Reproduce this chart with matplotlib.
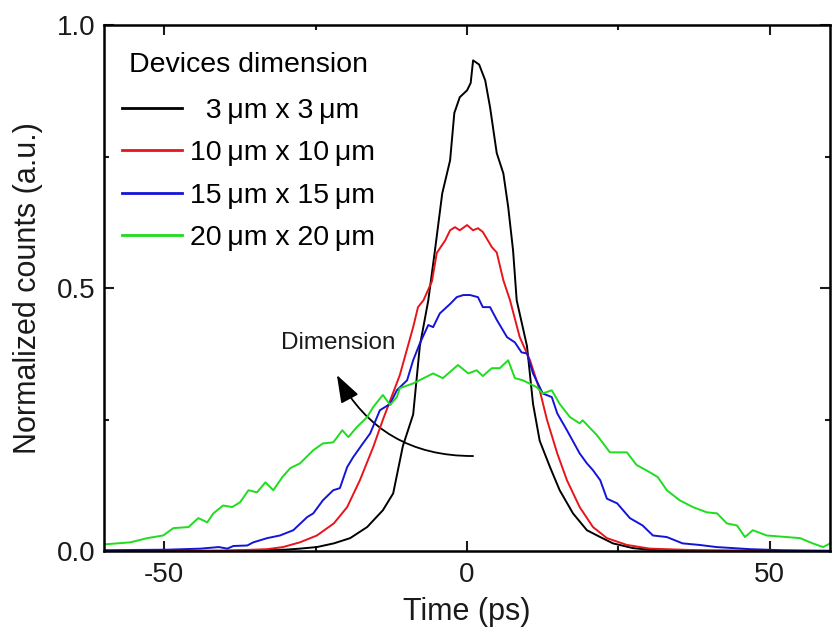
import numpy as np
import matplotlib
matplotlib.use("Agg")
import matplotlib.pyplot as plt
from matplotlib.patches import FancyArrowPatch

plt.rcParams['font.family'] = ['Liberation Sans', 'DejaVu Sans']
plt.rcParams['axes.unicode_minus'] = False

# time axis (ps) and normalized counts
t_3 = [-60, -40, -30, -27.6, -24.8, -22, -19.3, -16.5, -13.9, -12.2,
       -10.6, -8.9, -7.8, -6.4, -5.3, -4.1, -2.8, -2.1, -1.2, 0,
       0.6, 1, 2, 3, 3.8, 4.9, 6, 6.8, 7.6, 8.2,
       9.9, 10.9, 12, 13.7, 15.3, 17.5, 19.8, 22, 24.1, 27.4,
       30, 40, 60]
c_3 = [0, 0.001, 0.003, 0.005, 0.008, 0.015, 0.025, 0.046, 0.078, 0.11,
       0.2, 0.26, 0.39, 0.477, 0.572, 0.68, 0.743, 0.833, 0.863, 0.876,
       0.89, 0.933, 0.925, 0.895, 0.844, 0.757, 0.718, 0.654, 0.572, 0.477,
       0.39, 0.28, 0.21, 0.16, 0.116, 0.072, 0.04, 0.027, 0.015, 0.006,
       0.003, 0.001, 0]

t_10 = [-60, -40, -33, -30.4, -27.6, -24.8, -22, -19.8, -17.7, -15.5,
        -13.9, -11.1, -8.9, -8.1, -7.2, -5.8, -5, -3.6, -2.8, -2,
        -1.2, 0, 1, 1.8, 2.6, 4.1, 4.9, 6, 7.1, 8.7,
        10.4, 12, 13.2, 14.9, 16.5, 18.6, 20.8, 23.1, 26.4, 30.2,
        38, 60]
c_10 = [0, 0.001, 0.004, 0.008, 0.017, 0.03, 0.053, 0.084, 0.135, 0.198,
        0.25, 0.335, 0.426, 0.464, 0.477, 0.513, 0.567, 0.591, 0.61, 0.616,
        0.61, 0.62, 0.61, 0.614, 0.607, 0.578, 0.568, 0.515, 0.477, 0.407,
        0.363, 0.306, 0.25, 0.186, 0.135, 0.084, 0.046, 0.025, 0.012, 0.005,
        0.002, 0]

t_15 = [-60, -49.5, -44, -41, -39.6, -38.6, -36.3, -35.3, -33, -30.9,
        -28.7, -26.4, -25.4, -23.8, -22.1, -21, -19.8, -18.8, -17.2, -16,
        -14.4, -12.7, -11.6, -9.9, -8.9, -7.8, -6.4, -5.6, -4.5, -2.8,
        -1.7, -0.6, 0.5, 1.8, 2.6, 3.8, 4.9, 6.6, 7.9, 9,
        9.9, 10.9, 12.5, 14, 14.9, 16.5, 18.6, 19.8, 20.8, 22,
        23.1, 24.8, 26.9, 29, 30.7, 33, 35.6, 38.4, 41.2, 46.7,
        52, 60]
c_15 = [0.002, 0.003, 0.005, 0.008, 0.005, 0.01, 0.011, 0.017, 0.025, 0.03,
        0.04, 0.065, 0.072, 0.097, 0.116, 0.12, 0.16, 0.179, 0.205, 0.224,
        0.268, 0.28, 0.306, 0.325, 0.363, 0.395, 0.43, 0.426, 0.452, 0.47,
        0.483, 0.487, 0.487, 0.483, 0.464, 0.464, 0.44, 0.407, 0.397, 0.378,
        0.376, 0.338, 0.3, 0.293, 0.262, 0.23, 0.186, 0.167, 0.154, 0.135,
        0.1, 0.091, 0.063, 0.049, 0.03, 0.027, 0.015, 0.012, 0.008, 0.004,
        0.002, 0.001]

t_20 = [-60, -57.8, -55.6, -52.8, -50.2, -48.5, -46, -44.4, -42.9, -41.9,
        -40.3, -38.8, -37.5, -36.1, -34.7, -33.3, -32, -30.5, -29.2, -27.6,
        -25.4, -23.8, -22.1, -20.6, -19.6, -18.2, -16.5, -15.5, -14.4, -13.9,
        -12.7, -11.6, -11.1, -8.9, -5.6, -4, -1.5, 0.2, 1.6, 2.6,
        4.1, 5.4, 6.8, 7.9, 9.2, 11.5, 12.5, 14, 15.3, 17,
        18.6, 19.1, 21.5, 23.6, 24.8, 26.4, 28, 30.2, 31.5, 33,
        35.1, 37.3, 39.6, 41.3, 42.9, 44.6, 45.9, 47.2, 49.5, 52.8,
        55, 57.1, 58.8, 60]
c_20 = [0.013, 0.015, 0.017, 0.025, 0.03, 0.044, 0.046, 0.063, 0.055, 0.072,
        0.087, 0.084, 0.093, 0.116, 0.112, 0.131, 0.116, 0.141, 0.158, 0.167,
        0.192, 0.205, 0.207, 0.23, 0.217, 0.236, 0.255, 0.274, 0.29, 0.297,
        0.278, 0.293, 0.31, 0.319, 0.338, 0.329, 0.354, 0.338, 0.344, 0.333,
        0.348, 0.348, 0.363, 0.329, 0.325, 0.312, 0.3, 0.306, 0.28, 0.255,
        0.243, 0.249, 0.22, 0.188, 0.188, 0.188, 0.164, 0.15, 0.141, 0.116,
        0.097, 0.084, 0.074, 0.072, 0.053, 0.049, 0.027, 0.04, 0.03, 0.027,
        0.025, 0.015, 0.008, 0.015]

labels = ['  3\u2009\u03bcm x 3\u2009\u03bcm', '10\u2009\u03bcm x 10\u2009\u03bcm',
          '15\u2009\u03bcm x 15\u2009\u03bcm', '20\u2009\u03bcm x 20\u2009\u03bcm']
colors = ['black', '#e8141c', '#1414d8', '#1edc1e']

fig = plt.figure(figsize=(8.37, 6.44), dpi=100)
ax = fig.add_axes([0.124, 0.144, 0.868, 0.817])

for t, c, lab, col in zip([t_3, t_10, t_15, t_20], [c_3, c_10, c_15, c_20], labels, colors):
    ax.plot(t, c, color=col, lw=1.4, label=lab)

ax.set_xlim(-60, 60)
ax.set_ylim(0, 1.0)
ax.set_xticks([-50, 0, 50])
ax.set_xticks([-25, 25], minor=True)
ax.set_yticks([0.0, 0.5, 1.0])
ax.set_yticks([0.25, 0.75], minor=True)
ax.tick_params(which='both', direction='in', top=True, right=True, width=1.5, labelsize=20, colors='#1a1a1a')
ax.tick_params(which='major', length=7.5)
ax.tick_params(which='minor', length=3.5)
ax.tick_params(axis='x', pad=8)
ax.tick_params(axis='y', pad=6)
for s in ax.spines.values():
    s.set_linewidth(1.8)

ax.set_xlabel('Time (ps)', fontsize=22, labelpad=6, color='#1a1a1a')
ax.set_ylabel('Normalized counts (a.u.)', fontsize=22, labelpad=10, color='#1a1a1a')

leg = ax.legend(title='Devices dimension', loc='upper left', bbox_to_anchor=(0.025, 0.948),
                frameon=False, fontsize=20.5, title_fontsize=20.5, handlelength=2.1,
                handletextpad=0.3, labelspacing=0.58, borderpad=0, borderaxespad=0)
leg._legend_box.sep = 14
for h in leg.get_lines():
    h.set_linewidth(2.0)

arrow = FancyArrowPatch((1, 0.181), (-21.5, 0.335), connectionstyle='arc3,rad=-0.3',
                        arrowstyle='-|>,head_length=0.85,head_width=0.3', mutation_scale=20,
                        color='black', lw=1.3, shrinkA=0, shrinkB=0)
ax.add_patch(arrow)
ax.text(-21.3, 0.395, 'Dimension', fontsize=17.5, ha='center', va='center', color='#1a1a1a')

fig.savefig('out.png', dpi=100)
